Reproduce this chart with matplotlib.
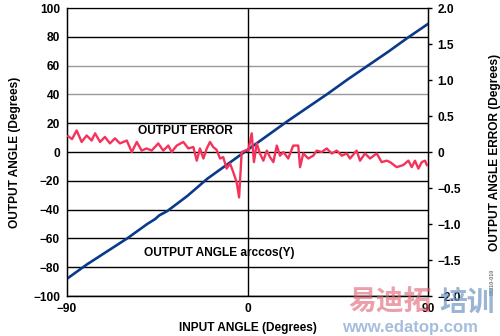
import matplotlib
matplotlib.use("Agg")
import matplotlib.pyplot as plt

# output angle arccos(Y) vs input angle
angle_in = [-90, -80, -70, -60, -50, -46, -44, -40, -30, -20, -10, 0, 10, 20, 30, 40, 50, 60, 70, 80, 90]
angle_out = [-88, -78, -69, -60, -50, -46.5, -44, -41, -30.5, -18.5, -8.5, 1.5, 11.5, 21.5, 31, 40.5, 50.5, 60, 69.5, 79.5, 89]

# output error (degrees), right axis
err_in = [-89.4, -87.5, -85.2, -82.7, -80.2, -77.7, -76.0, -73.5, -71.1, -68.6, -66.1, -63.6,
          -60.2, -57.7, -55.2, -52.8, -50.3, -47.8, -44.5, -42.0, -39.5, -37.8, -35.3, -32.0,
          -29.5, -27.0, -25.3, -23.7, -22.0, -20.3, -18.7, -17.1, -15.4, -13.7, -12.1, -10.4,
          -8.7, -7.1, -5.4, -4.2, -2.9, -0.4, 0.4, 2.1, 3.2, 4.6, 6.2, 7.9, 9.6, 11.2, 12.9,
          14.6, 16.2, 17.9, 20.3, 22.8, 25.3, 26.2, 27.8, 30.3, 32.8, 34.5, 37.0, 39.5, 42.0,
          44.5, 47.0, 49.5, 51.1, 54.4, 56.1, 58.6, 61.1, 64.4, 66.9, 69.4, 71.1, 74.4, 77.7,
          80.2, 81.9, 83.5, 85.2, 86.9, 88.5, 89.4]
err_out = [0.22, 0.18, 0.30, 0.14, 0.23, 0.16, 0.26, 0.14, 0.21, 0.12, 0.19, 0.12,
           0.16, 0.00, 0.14, 0.02, 0.05, 0.02, 0.12, 0.02, 0.09, 0.00, 0.09, 0.14,
           0.05, 0.07, -0.12, 0.05, -0.09, 0.05, 0.14, 0.07, 0.03, -0.09, -0.07, -0.23,
           -0.16, -0.28, -0.42, -0.63, 0.00, 0.03, 0.02, 0.26, -0.14, 0.12, -0.02, -0.12,
           0.02, -0.07, -0.14, 0.09, -0.05, 0.00, -0.09, 0.09, 0.09, -0.21, -0.02, -0.09,
           -0.05, 0.02, 0.00, 0.05, -0.02, 0.02, -0.05, -0.02, -0.09, 0.02, -0.12, -0.02,
           -0.09, -0.02, -0.14, -0.12, -0.14, -0.21, -0.18, -0.12, -0.21, -0.12, -0.23,
           -0.14, -0.12, -0.18]

left_ticks = [100, 80, 60, 40, 20, 0, -20, -40, -60, -80, -100]
right_ticks = [2.0, 1.5, 1.0, 0.5, 0, -0.5, -1.0, -1.5, -2.0]
right_labels = ["2.0", "1.5", "1.0", "0.5", "0", "\u22120.5", "\u22121.0", "\u22121.5", "\u22122.0"]
gray_rows = [100, 60, 40]

plt.rcParams['font.family'] = ['Liberation Sans', 'DejaVu Sans']
plt.rcParams['font.weight'] = 'bold'
plt.rcParams['axes.unicode_minus'] = True

fs = 8.6

fig = plt.figure(figsize=(5.0, 3.36), dpi=100)
ax = fig.add_axes([0.134, 0.119, 0.722, 0.857])
ax.set_xlim(-90, 90)
ax.set_ylim(-100, 100)

for v in left_ticks:
    c = '#999999' if v in gray_rows else 'black'
    ax.axhline(v, color=c, lw=1.0, zorder=1)
ax.axvline(0, color='black', lw=1.0, zorder=1)

ax.plot(angle_in, angle_out, color='#0a3a8a', lw=1.9, zorder=3)

ax.set_yticks(left_ticks)
ax.set_xticks([-90, 0, 90])
ax.tick_params(axis='both', length=0, labelsize=fs, pad=5)
for lab in ax.get_xticklabels() + ax.get_yticklabels():
    lab.set_fontweight('bold')
ax.set_xlabel("INPUT ANGLE (Degrees)", fontsize=fs, fontweight='bold', labelpad=5)
ax.set_ylabel("OUTPUT ANGLE (Degrees)", fontsize=fs, fontweight='bold', labelpad=9)
for s in ax.spines.values():
    s.set_linewidth(1.0)
ax.spines['top'].set_color('#999999')

ax2 = ax.twinx()
ax2.set_ylim(-2, 2)
ax2.plot(err_in, err_out, color='#f5335a', lw=1.7, zorder=4)
ax2.set_yticks(right_ticks)
ax2.set_yticklabels(right_labels, fontsize=fs, fontweight='bold')
ax2.tick_params(axis='y', direction='out', length=3, width=1, pad=4)
ax2.set_ylabel("OUTPUT ANGLE ERROR (Degrees)", fontsize=fs, fontweight='bold', labelpad=20)

ax.text(-31, 14.8, "OUTPUT ERROR", fontsize=fs, fontweight='bold', ha='center', va='center', zorder=5)
ax.text(-14, -70, "OUTPUT ANGLE arccos(Y)", fontsize=fs, fontweight='bold', ha='center', va='center', zorder=5)

fig.text(0.985, 0.16, "08210-010", fontsize=4, color='#777777', rotation=90, ha='center', va='center')

# watermark
fig.text(0.78, 0.1, "易迪拓", fontsize=20, color='#e06070', alpha=0.6, ha='center', va='center',
         family=['Noto Sans CJK SC', 'DejaVu Sans'], fontweight='bold')
fig.text(0.935, 0.1, "培训", fontsize=20, color='#6f95c4', alpha=0.7, ha='center', va='center',
         family=['Noto Sans CJK SC', 'DejaVu Sans'], fontweight='bold')
fig.text(0.82, 0.025, "www.edatop.com", fontsize=12, color='#7fa3cf', alpha=0.7, ha='center', va='center',
         fontweight='bold')

fig.savefig("out.png", dpi=100)
